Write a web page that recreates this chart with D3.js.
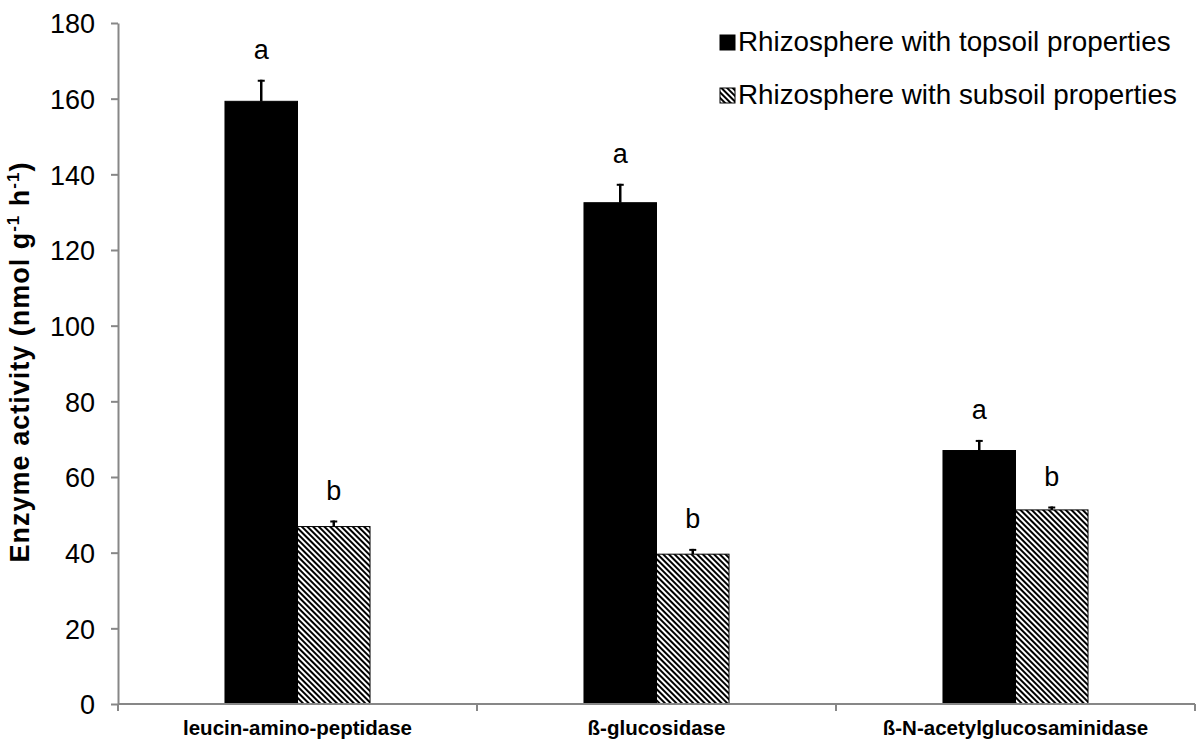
<!DOCTYPE html>
<html>
<head>
<meta charset="utf-8">
<script src="https://cdn.jsdelivr.net/npm/d3@7"></script>
<style>
  body { margin: 0; background: #fff; }
  text { font-family: "Liberation Sans", Arial, sans-serif; }
</style>
</head>
<body>
<script>
(function(){

//chart data
var enzymes = ["leucin-amino-peptidase", "ß-glucosidase", "ß-N-acetylglucosaminidase"];
var seriesNames = ["Rhizosphere with topsoil properties", "Rhizosphere with subsoil properties"];
var topsoil = [159.3, 132.5, 67.0];
var topsoilErr = [5.7, 5.0, 2.8];
var subsoil = [46.9, 39.6, 51.3];
var subsoilErr = [1.6, 1.4, 0.9];
var topsoilLetters = ["a", "a", "a"];
var subsoilLetters = ["b", "b", "b"];
var yTicks = [0, 20, 40, 60, 80, 100, 120, 140, 160, 180];

window.onload = drawChart();

function drawChart(){

    var width = 1198,
        height = 740;

    var svg = d3.select("body")
        .append("svg")
        .attr("width", width)
        .attr("height", height);

    //hatch pattern for subsoil bars
    var defs = svg.append("defs");
    defs.append("pattern")
        .attr("id", "hatch")
        .attr("patternUnits", "userSpaceOnUse")
        .attr("width", 4)
        .attr("height", 4)
        .attr("patternTransform", "rotate(-45)")
        .call(function(p){
            p.append("rect").attr("width", 4).attr("height", 4).attr("fill", "#fff");
            p.append("line")
                .attr("x1", 1).attr("y1", 0)
                .attr("x2", 1).attr("y2", 4)
                .attr("stroke", "#000")
                .attr("stroke-width", 2);
        });

    //scales
    var x = d3.scaleBand()
        .domain(enzymes)
        .range([118, 1195])
        .padding(0);

    var y = d3.scaleLinear()
        .domain([0, 180])
        .range([704, 23]);

    var groupWidth = x.bandwidth() * 0.404;
    var x1 = d3.scaleBand()
        .domain([0, 1])
        .range([x.bandwidth() / 2 - groupWidth / 2, x.bandwidth() / 2 + groupWidth / 2]);

    var axisColor = "#878787";

    //y axis
    var yAxis = svg.append("g")
        .attr("transform", "translate(118,0)")
        .call(d3.axisLeft(y).tickValues(yTicks).tickSize(7).tickPadding(16).tickSizeOuter(0));
    yAxis.select(".domain").attr("stroke", axisColor).attr("stroke-width", 2);
    yAxis.selectAll(".tick line").attr("stroke", axisColor).attr("stroke-width", 2);
    yAxis.selectAll(".tick text")
        .attr("fill", "#000")
        .style("font-size", "27px")
        .attr("dy", "0.36em");

    //bars
    var rows = enzymes.map(function(e, i){
        return [
            {cat: e, s: 0, v: topsoil[i], err: topsoilErr[i], letter: topsoilLetters[i]},
            {cat: e, s: 1, v: subsoil[i], err: subsoilErr[i], letter: subsoilLetters[i]}
        ];
    });
    var flat = [].concat.apply([], rows);

    svg.selectAll(".bar")
        .data(flat)
        .enter()
        .append("rect")
        .attr("class", "bar")
        .attr("x", function(d){ return x(d.cat) + x1(d.s); })
        .attr("y", function(d){ return y(d.v); })
        .attr("width", x1.bandwidth())
        .attr("height", function(d){ return y(0) - y(d.v); })
        .attr("fill", function(d){ return d.s === 0 ? "#000" : "url(#hatch)"; })
        .attr("stroke", "#000")
        .attr("stroke-width", 1);

    //error bars (upper only)
    var eb = svg.selectAll(".err")
        .data(flat)
        .enter()
        .append("g")
        .attr("class", "err");
    eb.append("line")
        .attr("x1", function(d){ return x(d.cat) + x1(d.s) + x1.bandwidth() / 2; })
        .attr("x2", function(d){ return x(d.cat) + x1(d.s) + x1.bandwidth() / 2; })
        .attr("y1", function(d){ return y(d.v); })
        .attr("y2", function(d){ return y(d.v + d.err); })
        .attr("stroke", "#000")
        .attr("stroke-width", 2.5);
    eb.append("line")
        .attr("x1", function(d){ return x(d.cat) + x1(d.s) + x1.bandwidth() / 2 - 3.5; })
        .attr("x2", function(d){ return x(d.cat) + x1(d.s) + x1.bandwidth() / 2 + 3.5; })
        .attr("y1", function(d){ return y(d.v + d.err) + 1; })
        .attr("y2", function(d){ return y(d.v + d.err) + 1; })
        .attr("stroke", "#000")
        .attr("stroke-width", 2);

    //significance letters
    svg.selectAll(".letter")
        .data(flat)
        .enter()
        .append("text")
        .attr("class", "letter")
        .attr("x", function(d){ return x(d.cat) + x1(d.s) + x1.bandwidth() / 2; })
        .attr("y", function(d){ return y(d.v + d.err) - 21; })
        .attr("text-anchor", "middle")
        .style("font-size", "27px")
        .text(function(d){ return d.letter; });

    //x axis line and boundary ticks
    svg.append("line")
        .attr("x1", x.range()[0]).attr("x2", x.range()[1])
        .attr("y1", y(0)).attr("y2", y(0))
        .attr("stroke", axisColor)
        .attr("stroke-width", 2);

    var bounds = enzymes.map(function(e){ return x(e); }).concat([x.range()[1]]);
    svg.selectAll(".xtick")
        .data(bounds)
        .enter()
        .append("line")
        .attr("class", "xtick")
        .attr("x1", function(d){ return d; })
        .attr("x2", function(d){ return d; })
        .attr("y1", y(0))
        .attr("y2", y(0) + 7)
        .attr("stroke", axisColor)
        .attr("stroke-width", 2);

    svg.selectAll(".xlabel")
        .data(enzymes)
        .enter()
        .append("text")
        .attr("class", "xlabel")
        .attr("x", function(d){ return x(d) + x.bandwidth() / 2; })
        .attr("y", 735)
        .attr("text-anchor", "middle")
        .style("font-size", "20.5px")
        .style("font-weight", "bold")
        .text(function(d){ return d; });

    //y axis title
    var title = svg.append("text")
        .attr("transform", "translate(29," + 362 + ") rotate(-90)")
        .attr("text-anchor", "middle")
        .style("font-size", "27px")
        .style("font-weight", "bold")
        .style("letter-spacing", "1px");
    title.append("tspan").text("Enzyme activity (nmol g");
    title.append("tspan").attr("dy", -10).style("font-size", "17px").text("-1");
    title.append("tspan").attr("dy", 10).text(" h");
    title.append("tspan").attr("dy", -10).style("font-size", "17px").text("-1");
    title.append("tspan").attr("dy", 10).text(")");

    //legend
    var legend = svg.selectAll(".legend")
        .data(seriesNames)
        .enter()
        .append("g")
        .attr("class", "legend")
        .attr("transform", function(d, i){ return "translate(720," + (35 + i * 53) + ")"; });
    legend.append("rect")
        .attr("width", 15)
        .attr("height", 15)
        .attr("fill", function(d, i){ return i === 0 ? "#000" : "url(#hatch)"; })
        .attr("stroke", "#000")
        .attr("stroke-width", 1);
    legend.append("text")
        .attr("x", 18)
        .attr("y", 16)
        .style("font-size", "27.8px")
        .text(function(d){ return d; });
};

})();
</script>
</body>
</html>
